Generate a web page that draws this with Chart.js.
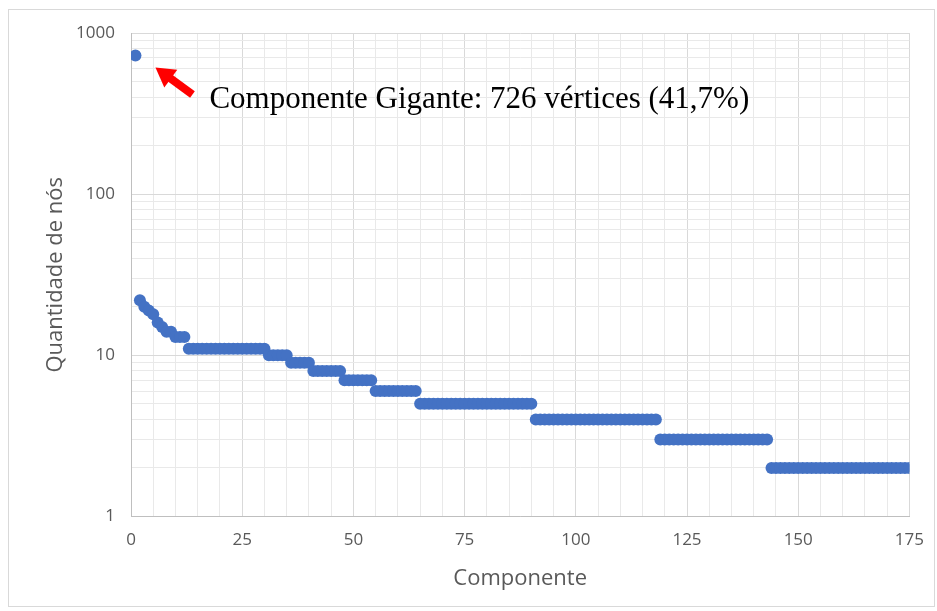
<!DOCTYPE html>
<html>
<head>
<meta charset="utf-8">
<script src="https://cdn.jsdelivr.net/npm/chart.js@4.4.1/dist/chart.umd.min.js"></script>
<style>
  body { margin: 0; background: #fff; }
</style>
</head>
<body>
<canvas id="myChart" width="937" height="611"></canvas>
<script>
// tamanho de cada componente (ordenado), componente 1..175
const componentes = [];
for (let i = 1; i <= 175; i++) componentes.push(i);

const tamanhos = [
  726, 22, 20, 19, 18, 16, 15, 14, 14, 13,
  13, 13, 11, 11, 11, 11, 11, 11, 11, 11,
  11, 11, 11, 11, 11, 11, 11, 11, 11, 11,
  10, 10, 10, 10, 10, 9, 9, 9, 9, 9,
  8, 8, 8, 8, 8, 8, 8, 7, 7, 7,
  7, 7, 7, 7, 6, 6, 6, 6, 6, 6,
  6, 6, 6, 6, 5, 5, 5, 5, 5, 5,
  5, 5, 5, 5, 5, 5, 5, 5, 5, 5,
  5, 5, 5, 5, 5, 5, 5, 5, 5, 5,
  4, 4, 4, 4, 4, 4, 4, 4, 4, 4,
  4, 4, 4, 4, 4, 4, 4, 4, 4, 4,
  4, 4, 4, 4, 4, 4, 4, 4, 3, 3,
  3, 3, 3, 3, 3, 3, 3, 3, 3, 3,
  3, 3, 3, 3, 3, 3, 3, 3, 3, 3,
  3, 3, 3, 2, 2, 2, 2, 2, 2, 2,
  2, 2, 2, 2, 2, 2, 2, 2, 2, 2,
  2, 2, 2, 2, 2, 2, 2, 2, 2, 2,
  2, 2, 2, 2, 2
];

const yTicks = [1, 10, 100, 1000];
const xTicks = [0, 25, 50, 75, 100, 125, 150, 175];
const anotacao = 'Componente Gigante: 726 vértices (41,7%)';

const pontos = [];
for (let i = 0; i < componentes.length; i++) {
  pontos.push({ x: componentes[i], y: tamanhos[i] });
}

// moldura + seta + texto
const extras = {
  id: 'extras',
  beforeDraw(chart) {
    const c = chart.ctx;
    c.save();
    c.fillStyle = '#fff';
    c.fillRect(0, 0, chart.width, chart.height);
    c.strokeStyle = '#d9d9d9';
    c.lineWidth = 1;
    c.strokeRect(8.5, 9.5, 926, 597);
    c.restore();
  },
  afterDraw(chart) {
    const c = chart.ctx;
    const px = chart.scales.x.getPixelForValue(componentes[0]);
    const py = chart.scales.y.getPixelForValue(tamanhos[0]);
    const tipX = px + 20, tipY = py + 12;
    const tailX = px + 57, tailY = py + 39;
    const ang = Math.atan2(tipY - tailY, tipX - tailX);
    c.save();
    c.strokeStyle = '#ff0000';
    c.fillStyle = '#ff0000';
    c.lineWidth = 8;
    c.beginPath();
    c.moveTo(tailX, tailY);
    c.lineTo(tipX - 12 * Math.cos(ang), tipY - 12 * Math.sin(ang));
    c.stroke();
    c.beginPath();
    c.moveTo(tipX, tipY);
    c.lineTo(tipX - 19 * Math.cos(ang) + 11 * Math.sin(ang), tipY - 19 * Math.sin(ang) - 11 * Math.cos(ang));
    c.lineTo(tipX - 19 * Math.cos(ang) - 11 * Math.sin(ang), tipY - 19 * Math.sin(ang) + 11 * Math.cos(ang));
    c.closePath();
    c.fill();
    c.fillStyle = '#000';
    c.font = '31px "Liberation Serif"';
    c.textBaseline = 'alphabetic';
    c.fillText(anotacao, px + 74, py + 53);
    c.restore();
  }
};

const ctx = document.getElementById('myChart').getContext('2d');
const myChart = new Chart(ctx, {
  type: 'scatter',
  data: {
    datasets: [{
      label: 'Quantidade de nós',
      data: pontos,
      backgroundColor: '#4472C4',
      borderColor: '#4472C4',
      pointRadius: 6,
      borderWidth: 0
    }]
  },
  options: {
    responsive: false,
    animation: false,
    layout: { padding: { top: 33, right: 26, left: 10, bottom: 8 } },
    plugins: {
      legend: { display: false },
      tooltip: { enabled: false }
    },
    scales: {
      x: {
        type: 'linear',
        min: 0,
        max: 175,
        afterBuildTicks(scale) {
          const t = [];
          for (let v = 0; v <= 175; v += 5) t.push({ value: v });
          scale.ticks = t;
        },
        afterFit(scale) { scale.height = 611 - 516.5 - 8; },
        ticks: {
          autoSkip: false,
          maxRotation: 0,
          padding: 13,
          color: '#595959',
          font: { family: 'Open Sans', size: 17 },
          callback: (v) => xTicks.includes(v) ? String(v) : ''
        },
        grid: {
          drawTicks: false,
          color: (c) => xTicks.includes(c.tick.value) ? '#d9d9d9' : '#e9e9e9'
        },
        border: { color: '#bfbfbf' },
        title: {
          display: true,
          text: 'Componente',
          color: '#595959',
          font: { family: 'Open Sans', size: 22 },
          padding: { top: 2, bottom: 11 }
        }
      },
      y: {
        type: 'logarithmic',
        min: 1,
        max: 1000,
        afterBuildTicks(scale) {
          const t = [];
          for (let d = 1; d < 1000; d *= 10) {
            for (let k = 1; k <= 9; k++) t.push({ value: k * d });
          }
          t.push({ value: 1000 });
          scale.ticks = t;
        },
        afterFit(scale) { scale.width = 131 - 10; },
        ticks: {
          autoSkip: false,
          padding: 16,
          color: '#595959',
          font: { family: 'Open Sans', size: 17 },
          callback: (v) => yTicks.includes(v) ? String(v) : ''
        },
        grid: {
          drawTicks: false,
          color: (c) => yTicks.includes(c.tick.value) ? '#d9d9d9' : '#e9e9e9'
        },
        border: { color: '#bfbfbf' },
        title: {
          display: true,
          text: 'Quantidade de nós',
          color: '#595959',
          font: { family: 'Open Sans', size: 22 },
          padding: { top: 33 }
        }
      }
    }
  },
  plugins: [extras]
});
</script>
</body>
</html>
